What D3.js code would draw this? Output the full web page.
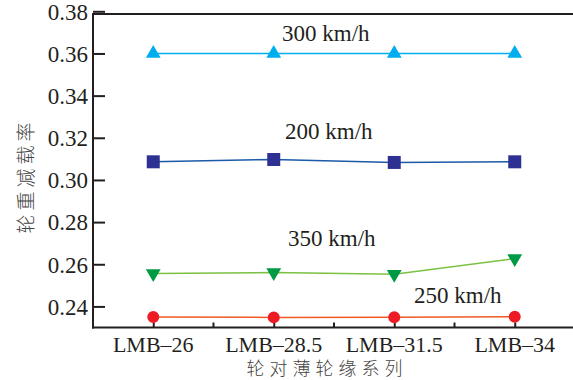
<!DOCTYPE html>
<html>
<head>
<meta charset="utf-8">
<script src="https://cdn.jsdelivr.net/npm/d3@7"></script>
<style>
  body { margin: 0; background: #fff; }
  svg text { font-family: "Liberation Serif", "Times New Roman", "DejaVu Serif", serif; fill: #231f20; }
  .cjk { font-family: "Noto Sans CJK SC", sans-serif !important; fill: #444 !important; font-weight: 300; }
</style>
</head>
<body>
<svg id="chart" width="573" height="380"></svg>
<script>
// categories and series
const categories = ["LMB\u201326", "LMB\u201328.5", "LMB\u201331.5", "LMB\u201334"];
const v300 = [0.360, 0.360, 0.360, 0.360];
const v200 = [0.3086, 0.3097, 0.3083, 0.3086];
const v350 = [0.2556, 0.2561, 0.2553, 0.2627];
const v250 = [0.2350, 0.2348, 0.2349, 0.2351];
const yTicks = [0.24, 0.26, 0.28, 0.30, 0.32, 0.34, 0.36, 0.38];

const series = [
  { name: "300 km/h", values: v300, line: "#00aeef", fill: "#00aeef", shape: "up", lx: 282, ly: 41 },
  { name: "200 km/h", values: v200, line: "#1b5aa8", fill: "#2e3192", shape: "square", lx: 285, ly: 139 },
  { name: "350 km/h", values: v350, line: "#7ac143", fill: "#009944", shape: "down", lx: 288, ly: 246 },
  { name: "250 km/h", values: v250, line: "#f15a24", fill: "#ed1c24", shape: "circle", lx: 414, ly: 303 }
];

const svg = d3.select("#chart");
const pLeft = 93, pRight = 575, pTop = 14, pBottom = 327.5;

var x = d3.scalePoint().domain(categories).range([pLeft, pRight]).padding(0.5);
var y = d3.scaleLinear().domain([0.23, 0.38]).range([pBottom, 11.3]);

// frame lines
svg.append("line").attr("x1", pLeft).attr("x2", 573).attr("y1", pTop).attr("y2", pTop)
  .attr("stroke", "#231f20").attr("stroke-width", 2);

// y axis with inward ticks
var yAxis = svg.append("g").attr("transform", `translate(${pLeft},0)`)
  .call(d3.axisRight(y).tickValues(yTicks).tickSize(12).tickFormat(d3.format(".2f")));
yAxis.select(".domain").remove();
yAxis.selectAll(".tick line").attr("stroke", "#231f20").attr("stroke-width", 2);
yAxis.selectAll(".tick text").attr("x", -5).attr("text-anchor", "end")
  .attr("font-size", 23).attr("dy", "0.34em");
svg.append("line").attr("x1", pLeft).attr("x2", pLeft).attr("y1", pTop - 1).attr("y2", pBottom + 1)
  .attr("stroke", "#231f20").attr("stroke-width", 2);

// x axis: major ticks at categories, minor ticks between
var step = x.step();
var xAxis = svg.append("g").attr("transform", `translate(0,${pBottom})`)
  .call(d3.axisTop(x).tickSize(5).tickFormat(""));
xAxis.select(".domain").remove();
xAxis.selectAll(".tick line").attr("stroke", "#231f20").attr("stroke-width", 2);
xAxis.selectAll(".minor").data(categories.slice(1)).enter().append("line")
  .attr("class", "minor")
  .attr("x1", d => x(d) - step / 2).attr("x2", d => x(d) - step / 2)
  .attr("y1", 0).attr("y2", -5).attr("stroke", "#231f20").attr("stroke-width", 2);
svg.selectAll("text.xlab").data(categories).enter().append("text")
  .attr("class", "xlab").attr("x", d => x(d)).attr("y", pBottom + 24)
  .attr("text-anchor", "middle").attr("font-size", 22).text(d => d);
svg.append("line").attr("x1", pLeft - 1).attr("x2", 573).attr("y1", pBottom).attr("y2", pBottom)
  .attr("stroke", "#231f20").attr("stroke-width", 2);

// axis titles
svg.append("text").attr("class", "cjk")
  .attr("transform", "translate(33,176) rotate(-90)")
  .attr("text-anchor", "middle").attr("font-size", 19).attr("letter-spacing", 4)
  .text("轮重减载率");
svg.append("text").attr("class", "cjk")
  .attr("x", 327).attr("y", 375).attr("text-anchor", "middle")
  .attr("font-size", 18).attr("letter-spacing", 5)
  .text("轮对薄轮缘系列");

// series
var line = d3.line().x((d, i) => x(categories[i])).y(d => y(d));
var tri = d3.symbol().type(d3.symbolTriangle).size(95);
series.forEach(s => {
  var g = svg.append("g");
  g.append("path").attr("d", line(s.values)).attr("fill", "none")
    .attr("stroke", s.line).attr("stroke-width", 1.5);
  g.selectAll(".m").data(s.values).enter().append("path").attr("class", "m")
    .attr("transform", (d, i) => {
      var t = `translate(${x(categories[i])},${y(d)})`;
      return s.shape == "down" ? t + " rotate(180)" : t;
    })
    .attr("d", s.shape == "square" ? "M-6.5,-6.5h13v13h-13z"
      : s.shape == "circle" ? d3.symbol().type(d3.symbolCircle).size(113)()
      : tri())
    .attr("fill", s.fill);
  svg.append("text").attr("x", s.lx).attr("y", s.ly).attr("font-size", 23).text(s.name);
});
</script>
</body>
</html>
